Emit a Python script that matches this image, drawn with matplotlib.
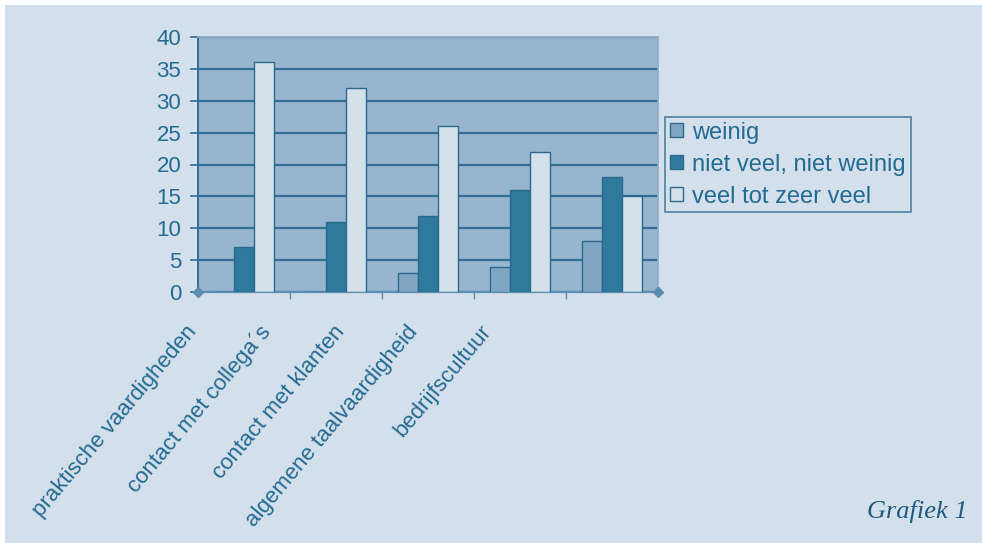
import matplotlib
matplotlib.use("Agg")
import matplotlib.pyplot as plt
import numpy as np
from matplotlib.patches import Rectangle, Patch

categories = ["praktische vaardigheden", "contact met collega´s", "contact met klanten",
              "algemene taalvaardigheid", "bedrijfscultuur"]
weinig = [0, 0, 3, 4, 8]
niet_veel = [7, 11, 12, 16, 18]
veel = [36, 32, 26, 22, 15]
series_names = ["weinig", "niet veel, niet weinig", "veel tot zeer veel"]
yticks = [0, 5, 10, 15, 20, 25, 30, 35, 40]

BG = "#d3dfea"
PLOT_BG = "#97b5cf"
GRID = "#2f6e92"
TXT = "#226b92"
C_W = "#80a6c3"
C_N = "#2e7a9c"
C_V = "#d4e0ea"
EDGE = "#2a6a8e"

plt.rcParams['font.family'] = ['Liberation Sans', 'DejaVu Sans']

fig = plt.figure(figsize=(9.82, 5.43), dpi=100)
fig.patch.set_facecolor("white")
fig.patches.append(Rectangle((5/982, 0), 1, 1 - 5/543, transform=fig.transFigure,
                             facecolor=BG, edgecolor="none", zorder=-10))

ax = fig.add_axes([198/982, 1 - 292/543, 460/982, 255/543])
ax.set_facecolor(PLOT_BG)

x = np.arange(len(categories))
w = 0.22
for vals, col, off in [(weinig, C_W, -w), (niet_veel, C_N, 0), (veel, C_V, w)]:
    ax.bar(x + off, vals, width=w, color=col, edgecolor=EDGE, linewidth=1.0, zorder=3)

ax.set_xlim(-0.5, len(categories) - 0.5)
ax.set_ylim(0, 40)
ax.set_yticks(yticks)
ax.set_yticklabels([str(v) for v in yticks], fontsize=16, color=TXT)
ax.yaxis.grid(True, color=GRID, linewidth=1.6, zorder=1)
ax.set_axisbelow(True)
ax.tick_params(axis='y', length=6, width=1.2, color=GRID, pad=6)

# category boundary ticks on x axis (interior boundaries)
ax.set_xticks(np.arange(1, len(categories)) - 0.5)
ax.set_xticklabels([])
ax.tick_params(axis='x', length=5, width=1.0, color="#5a8db0", direction='out')

for s in ["top", "right"]:
    ax.spines[s].set_color("#8fb0cb")
    ax.spines[s].set_linewidth(1.2)
ax.spines["left"].set_color(GRID)
ax.spines["left"].set_linewidth(1.4)
ax.spines["bottom"].set_color("#5a8db0")
ax.spines["bottom"].set_linewidth(1.6)
ax.plot([0, 1], [0, 0], transform=ax.transAxes, linestyle='none', marker='D',
        markersize=5, color="#5a8db0", clip_on=False, zorder=5)

# rotated category labels
for i, lab in enumerate(categories):
    ax.text(-0.027 + i * 0.16, -0.115, lab, transform=ax.transAxes, rotation=50,
            rotation_mode='anchor', ha='right', va='top', fontsize=16, color=TXT)

# legend
handles = [Patch(facecolor=C_W, edgecolor=EDGE), Patch(facecolor=C_N, edgecolor=EDGE),
           Patch(facecolor=C_V, edgecolor=EDGE)]
leg = fig.legend(handles, series_names, loc='upper left',
                 bbox_to_anchor=(665/982, 1 - 117/543), frameon=True, fancybox=False,
                 fontsize=17, handlelength=0.55, handleheight=0.55, handletextpad=0.4,
                 labelspacing=0.42, borderpad=0.2, borderaxespad=0)
leg.get_frame().set_facecolor(BG)
leg.get_frame().set_edgecolor(EDGE)
leg.get_frame().set_linewidth(1.2)
for t in leg.get_texts():
    t.set_color(TXT)

fig.text(968/982, 1 - 518/543, "Grafiek 1", ha='right', va='baseline',
         fontsize=19, fontstyle='italic', family=['Liberation Serif', 'DejaVu Serif'],
         color="#1f5a80")

fig.savefig("out.png", dpi=100, facecolor=fig.get_facecolor())
